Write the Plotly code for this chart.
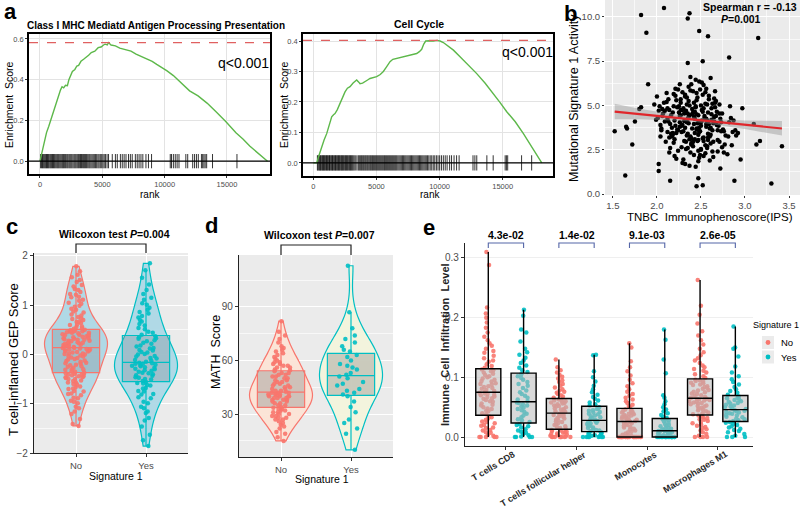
import plotly.graph_objects as go

# ---------------- DATA ----------------
# Panel a: GSEA running enrichment score (rank, ES) and hit ranks
es_mhc = [(0, 0.0), (150, 0.04), (300, 0.08), (525, 0.14), (700, 0.17), (900, 0.21), (1077, 0.24), (1250, 0.27),
          (1490, 0.32), (1650, 0.35), (1770, 0.365), (1900, 0.36), (2044, 0.372), (2200, 0.37), (2320, 0.40),
          (2450, 0.42), (2600, 0.44), (2800, 0.45), (2955, 0.467), (3100, 0.47), (3287, 0.49), (3500, 0.50),
          (3700, 0.508), (3900, 0.52), (4116, 0.533), (4400, 0.54), (4668, 0.557), (4900, 0.56), (5100, 0.57),
          (5220, 0.574), (5400, 0.57), (5497, 0.582), (5700, 0.57), (6050, 0.566), (6400, 0.555), (6878, 0.549),
          (7300, 0.54), (7707, 0.525), (8100, 0.515), (8536, 0.50), (9000, 0.49), (9365, 0.475), (9800, 0.46),
          (10193, 0.443), (10700, 0.42), (11298, 0.385), (12000, 0.345), (12680, 0.32), (13400, 0.285),
          (14061, 0.246), (14900, 0.195), (15718, 0.139), (16300, 0.108), (16823, 0.074), (17500, 0.04),
          (18067, 0.008), (18250, 0.0)]
hits_mhc = [50, 120, 200, 260, 330, 400, 470, 520, 600, 660, 720, 800, 870, 940, 1010, 1080, 1150, 1220, 1300,
            1380, 1450, 1520, 1600, 1680, 1760, 1830, 1900, 1980, 2060, 2150, 2230, 2320, 2400, 2480, 2560, 2650,
            2740, 2820, 2900, 2990, 3080, 3160, 3250, 3330, 3420, 3500, 3580, 3660, 3740, 3830, 3920, 4000, 4090,
            4180, 4270, 4360, 4460, 4550, 4650, 4740, 4840, 4950, 5050, 5150, 5250, 5380, 5500, 5800, 6050, 6200,
            6450, 6600, 6750, 6900, 7100, 7250, 7400, 7650, 7800, 7950, 8100, 8250, 8500, 8700, 8950, 10450,
            10550, 10700, 10850, 11000, 11150, 11700, 11850, 12250, 12400, 12550, 12700, 12950, 13050, 13150,
            13250, 13370, 13840, 15800]
es_cc = [(0, 0.0), (264, 0.0), (450, 0.025), (660, 0.053), (850, 0.075), (1057, 0.096), (1250, 0.125),
         (1453, 0.151), (1600, 0.158), (1717, 0.162), (1900, 0.175), (2113, 0.195), (2300, 0.215), (2510, 0.233),
         (2700, 0.245), (2906, 0.25), (3150, 0.262), (3434, 0.272), (3600, 0.265), (3698, 0.26), (3900, 0.262),
         (4094, 0.266), (4300, 0.272), (4490, 0.277), (4750, 0.28), (5018, 0.283), (5300, 0.29), (5547, 0.30),
         (5800, 0.315), (6075, 0.332), (6300, 0.34), (6604, 0.343), (6900, 0.345), (7132, 0.348), (7400, 0.352),
         (7660, 0.354), (7950, 0.356), (8188, 0.359), (8400, 0.365), (8585, 0.373), (8750, 0.39), (8902, 0.40),
         (9200, 0.401), (9510, 0.40), (9800, 0.402), (10040, 0.40), (10300, 0.395), (10568, 0.387),
         (11100, 0.37), (11624, 0.348), (12300, 0.32), (12946, 0.293), (13600, 0.262), (14267, 0.228),
         (14800, 0.198), (15324, 0.168), (16000, 0.135), (16645, 0.096), (17300, 0.052), (17966, 0.009),
         (18100, 0.0)]
hits_cc = [320, 380, 450, 510, 560, 620, 690, 740, 800, 860, 910, 980, 1040, 1100, 1150, 1220, 1280, 1330, 1400,
           1460, 1520, 1570, 1640, 1700, 1760, 1810, 1880, 1940, 2000, 2060, 2120, 2190, 2250, 2300, 2370, 2430,
           2500, 2560, 2620, 2690, 2750, 2820, 2880, 2950, 3010, 3080, 3150, 3230, 3320, 3450, 3560, 3640, 3720,
           3800, 3870, 3950, 4020, 4100, 4170, 4250, 4320, 4400, 4480, 4550, 4630, 4700, 4780, 4860, 4940, 5020,
           5100, 5180, 5260, 5340, 5420, 5500, 5580, 5650, 5730, 5810, 5890, 5970, 6050, 6130, 6210, 6290, 6370,
           6450, 6530, 6610, 6700, 6790, 6880, 6970, 7060, 7150, 7240, 7330, 7420, 7510, 7600, 7690, 7780, 7870,
           7960, 8050, 8140, 8230, 8320, 8410, 8500, 8590, 8680, 8770, 8860, 8950, 9050, 9150, 9260, 9380, 9500,
           9620, 9750, 9880, 10010, 10150, 10300, 10450, 10600, 10800, 10950, 11150, 11350, 11550, 12650, 12800,
           12950, 13750, 14250, 15200, 15300, 15400, 16500, 17300]
rank_ticks = [0, 5000, 10000, 15000]

# Panel b: IPS vs Signature 1 activity
ips = [2.31, 2.45, 2.12, 2.58, 2.67, 2.22, 2.39, 2.50, 2.04, 2.76, 2.29, 2.41, 2.63, 2.18, 2.55, 2.35, 2.47, 2.09, 2.71, 2.26,
       2.52, 2.33, 2.15, 2.44, 2.60, 2.27, 2.81, 2.38, 2.01, 2.49, 2.66, 2.20, 2.36, 2.57, 2.43, 2.11, 2.74, 2.30, 2.53, 2.40,
       2.24, 2.62, 2.46, 2.07, 2.34, 2.55, 2.19, 2.70, 2.42, 2.28, 2.86, 2.13, 2.51, 2.37, 2.64, 2.25, 2.48, 1.97, 2.59, 2.32,
       2.45, 2.16, 2.68, 2.39, 2.56, 2.05, 2.29, 2.77, 2.50, 2.21, 2.42, 2.61, 2.34, 2.14, 2.53, 2.89, 2.26, 2.47, 2.72, 2.36,
       2.60, 2.23, 2.40, 2.54, 2.10, 2.32, 2.66, 2.48, 2.18, 2.84, 2.37, 2.57, 2.03, 2.44, 2.28, 2.69, 2.51, 2.20, 2.35, 2.63,
       2.41, 2.58, 2.12, 2.30, 2.75, 2.46, 2.24, 2.65, 2.38, 2.53, 2.00, 2.33, 2.49, 2.80, 2.17, 2.43, 2.61, 2.27, 2.56, 2.92,
       2.36, 2.22, 2.52, 2.08, 2.64, 2.45, 2.31, 2.71, 2.19, 2.55, 2.40, 2.87, 2.26, 2.47, 2.14, 2.62, 2.34, 2.50, 2.06, 2.73,
       2.29, 2.58, 2.42, 2.16, 2.67, 2.37, 2.53, 1.99, 2.44, 2.78, 2.21, 2.60, 2.32, 2.48, 2.11, 2.69, 2.39, 2.25, 2.57, 2.83,
       2.46, 2.27, 2.63, 2.35, 2.09, 2.51, 2.42, 2.74, 2.18, 2.56, 2.30, 2.65, 2.44, 2.02, 2.38, 2.59, 2.23, 2.48, 2.90, 2.33,
       2.54, 2.20, 2.40, 2.68, 2.13, 2.47, 2.36, 2.61, 2.05, 2.76, 2.28, 2.52, 2.43, 2.15, 2.66, 2.31, 2.57, 2.97, 2.24, 2.45,
       2.34, 2.59, 2.19, 2.49, 2.71, 2.26, 2.41, 2.06, 2.55, 2.37, 2.64, 2.12, 2.50, 2.82, 2.29, 2.45, 2.62, 2.22, 2.39, 2.53,
       2.43, 2.17, 2.65, 2.32, 2.50, 2.04, 2.73, 2.38, 2.58, 2.27, 2.47, 2.69, 2.14, 2.41, 2.85, 2.56, 2.35, 2.21, 2.61, 2.48,
       1.52, 1.64, 1.65, 1.66, 1.72, 1.75, 1.82, 1.88, 1.90, 2.08, 2.35, 2.37, 2.48, 2.58, 3.15, 2.82, 2.35, 2.52, 3.30, 3.42,
       3.13, 3.17, 3.10, 2.88, 2.47, 2.45, 2.52, 2.15, 2.95, 2.72, 2.02, 2.02, 1.80, 1.82]
sig1 = [4.12, 3.65, 4.85, 3.20, 4.40, 5.30, 2.85, 4.05, 3.90, 3.55, 5.75, 4.60, 2.40, 3.35, 5.10, 4.25, 3.05, 4.70, 2.95, 3.80,
        5.60, 2.55, 3.95, 4.95, 3.70, 4.45, 3.25, 5.85, 4.30, 2.20, 4.90, 3.10, 6.05, 4.15, 3.45, 5.20, 4.55, 1.95, 3.00, 4.80,
        3.60, 4.20, 5.45, 4.55, 3.30, 2.75, 5.65, 3.85, 4.35, 2.65, 3.50, 4.10, 6.30, 5.00, 2.10, 4.95, 3.75, 5.05, 5.35, 1.70,
        4.50, 3.40, 4.65, 3.15, 5.95, 3.70, 4.75, 2.80, 2.50, 5.55, 3.95, 3.35, 4.05, 2.35, 4.85, 3.60, 6.20, 1.85, 4.25, 5.25,
        3.25, 4.90, 2.90, 4.40, 2.95, 5.50, 5.80, 3.50, 4.60, 4.30, 1.60, 2.60, 4.95, 6.45, 3.85, 3.05, 4.15, 2.15, 4.55, 5.10,
        2.70, 4.60, 4.25, 3.55, 3.65, 4.00, 2.45, 5.40, 6.60, 3.20, 5.50, 4.70, 5.90, 2.25, 3.75, 3.10, 2.85, 5.15, 3.95, 3.45,
        4.35, 2.00, 4.65, 5.15, 4.00, 5.70, 3.00, 4.55, 4.95, 2.30, 3.70, 4.15, 4.40, 3.35, 3.20, 4.85, 5.45, 2.55, 4.80, 3.55,
        3.90, 3.40, 2.20, 4.45, 5.25, 3.10, 6.15, 4.20, 4.90, 3.30, 3.85, 1.90, 5.60, 4.10, 5.70, 2.40, 2.80, 4.60, 5.05, 4.95,
        3.00, 5.35, 3.60, 2.60, 4.10, 4.75, 5.15, 2.65, 3.45, 3.80, 4.85, 4.35, 1.55, 4.70, 3.25, 5.55, 3.65, 6.35, 3.30, 2.95,
        4.30, 4.15, 4.50, 3.90, 5.35, 2.45, 4.00, 6.55, 3.60, 2.35, 3.50, 3.15, 4.65, 2.60, 5.15, 4.55, 2.70, 4.85, 5.90, 3.70,
        5.05, 3.95, 2.90, 3.55, 5.05, 4.05, 2.95, 4.40, 5.75, 4.45, 2.95, 3.50, 3.85, 4.05, 1.75, 5.30, 4.50, 3.45, 6.20, 2.15,
        4.25, 3.25, 4.10, 3.75, 5.00, 3.25, 4.05, 2.35, 3.05, 4.75, 4.45, 3.60, 4.75, 5.80, 2.75, 4.25, 3.40, 5.95, 3.75, 2.05,
        3.55, 1.05, 3.80, 3.70, 2.80, 4.10, 10.10, 9.10, 6.20, 10.50, 9.90, 10.20, 9.20, 8.90, 8.80, 7.70, 7.40, 7.50, 0.60, 2.70,
        2.80, 3.00, 3.95, 0.75, 0.90, 0.45, 0.50, 0.75, 1.95, 1.45, 1.30, 1.70, 4.80, 4.90]
fit_x = [1.52, 3.42]
fit_y = [4.65, 3.70]
ci_x = [1.52, 1.80, 2.10, 2.40, 2.70, 3.00, 3.42]
ci_lo = [4.22, 4.22, 4.17, 4.10, 3.90, 3.67, 3.30]
ci_hi = [5.10, 4.82, 4.57, 4.34, 4.22, 4.15, 4.12]

# Panel c: T cell-inflamed GEP score
gep_no = [-1.45, -1.41, -1.31, -1.21, -1.16, -1.09, -1.06, -0.99, -0.96, -0.94, -0.89, -0.88, -0.83, -0.80, -0.79, -0.75,
          -0.74, -0.70, -0.69, -0.66, -0.65, -0.61, -0.60, -0.57, -0.57, -0.54, -0.53, -0.50, -0.50, -0.48, -0.46, -0.46,
          -0.44, -0.44, -0.42, -0.41, -0.41, -0.39, -0.39, -0.38, -0.36, -0.35, -0.34, -0.31, -0.30, -0.30, -0.27, -0.25,
          -0.24, -0.22, -0.21, -0.19, -0.18, -0.17, -0.15, -0.13, -0.12, -0.10, -0.09, -0.07, -0.06, -0.04, -0.03, -0.02,
          0.00, 0.01, 0.02, 0.02, 0.04, 0.05, 0.06, 0.07, 0.08, 0.08, 0.10, 0.10, 0.11, 0.12, 0.13, 0.13, 0.15, 0.16,
          0.16, 0.18, 0.19, 0.20, 0.20, 0.22, 0.23, 0.24, 0.25, 0.25, 0.27, 0.28, 0.28, 0.30, 0.30, 0.31, 0.32, 0.33,
          0.33, 0.35, 0.36, 0.37, 0.37, 0.39, 0.40, 0.41, 0.41, 0.43, 0.44, 0.44, 0.45, 0.46, 0.47, 0.47, 0.48, 0.49,
          0.49, 0.50, 0.52, 0.53, 0.56, 0.57, 0.60, 0.61, 0.64, 0.66, 0.67, 0.70, 0.72, 0.73, 0.76, 0.79, 0.81, 0.85,
          0.87, 0.91, 0.93, 0.97, 0.99, 1.03, 1.05, 1.09, 1.11, 1.16, 1.17, 1.21, 1.23, 1.27, 1.31, 1.33, 1.38, 1.41,
          1.47, 1.51, 1.57, 1.62, 1.69, 1.79]
gep_yes = [-1.86, -1.74, -1.63, -1.46, -1.34, -1.29, -1.19, -1.16, -1.09, -1.06, -0.99, -0.96, -0.89, -0.87, -0.81,
           -0.80, -0.75, -0.74, -0.69, -0.68, -0.63, -0.62, -0.59, -0.58, -0.56, -0.54, -0.51, -0.50, -0.47, -0.46,
           -0.43, -0.42, -0.40, -0.38, -0.37, -0.35, -0.33, -0.32, -0.30, -0.29, -0.27, -0.26, -0.24, -0.23, -0.22,
           -0.21, -0.19, -0.19, -0.18, -0.17, -0.15, -0.12, -0.11, -0.08, -0.07, -0.04, -0.03, 0.00, 0.01, 0.04,
           0.05, 0.08, 0.09, 0.12, 0.13, 0.16, 0.18, 0.22, 0.24, 0.27, 0.29, 0.32, 0.33, 0.35, 0.37, 0.40, 0.44,
           0.46, 0.51, 0.54, 0.59, 0.62, 0.67, 0.70, 0.75, 0.78, 0.83, 0.86, 0.91, 0.95, 1.01, 1.04, 1.11, 1.15,
           1.23, 1.31, 1.42, 1.56, 1.71, 1.85]

# Panel d: MATH score
math_no = [15, 17, 19, 20, 22, 23, 24, 25, 26, 27, 27, 28, 28, 29, 29, 30, 30, 31, 31, 32, 32, 33, 33, 33.5,
           34, 35, 35, 36, 36, 37, 37, 38, 38, 38, 39, 39, 39, 40, 40, 40, 40, 41, 41, 41, 41, 42, 42, 42,
           42.5, 43, 43, 44, 44, 45, 45, 46, 46, 47, 47, 48, 48, 49, 49, 50, 50, 51, 51, 52, 52, 53, 53, 54,
           54.5, 55, 56, 56, 57, 57, 58, 58, 59, 59, 60, 61, 62, 63, 64, 65, 66, 67, 68, 70, 72, 74, 76, 82]
math_yes = [10, 19, 22, 25, 27, 31, 34, 37, 40, 41, 42, 43, 44, 46, 47, 48, 50, 51,
            52, 53, 55, 56, 57, 58, 60, 62, 63, 65, 66, 68, 70, 72, 74, 78, 87, 113]

# Panel e: immune cell infiltration
cell_types = ["T cells CD8", "T cells follicular helper", "Monocytes", "Macrophages M1"]
p_values = ["4.3e-02", "1.4e-02", "9.1e-03", "2.6e-05"]
infil_no = {
    "T cells CD8": [0, 0, 0, 0, 0, .002, .004, .007, .008, .011, .012, .015, .016, .019, .020, .023, .025, .026, .029, .031,
                    .033, .035, .038, .040, .043, .044, .047, .048, .050, .053, .054, .056, .059, .060, .062, .064, .065,
                    .067, .068, .070, .071, .072, .073, .074, .076, .077, .079, .081, .082, .084, .085, .088, .089, .090,
                    .093, .094, .096, .098, .100, .102, .104, .106, .108, .110, .112, .113, .116, .119, .122, .126, .128,
                    .132, .136, .141, .144, .148, .153, .157, .162, .168, .175, .183, .192, .200, .207, .217, .288, .310],
    "T cells follicular helper": [0, 0, 0, 0, 0, 0, 0, 0, .001, .002, .003, .004, .005, .006, .007, .008, .009, .010, .011,
                                  .012, .014, .015, .017, .018, .020, .021, .023, .025, .026, .028, .029, .031, .032, .034,
                                  .035, .036, .037, .038, .039, .039, .041, .042, .043, .045, .046, .047, .048, .050, .051,
                                  .052, .053, .055, .056, .057, .058, .059, .060, .061, .062, .063, .066, .068, .070, .072,
                                  .074, .076, .078, .080, .083, .086, .089, .092, .095, .098, .101, .104, .108, .112, .117,
                                  .130],
    "Monocytes": [0] * 22 + [.001, .002, .003, .004, .006, .008, .009, .011, .013, .014, .016, .017, .019, .020, .022,
                             .023, .024, .025, .027, .028, .029, .030, .031, .032, .033, .034, .035, .036, .037, .038,
                             .039, .040, .041, .042, .043, .044, .045, .046, .050, .052, .054, .057, .060, .063, .066,
                             .069, .072, .076, .080, .085, .090, .096, .103, .110, .117, .127, .150, .157],
    "Macrophages M1": [0, 0, 0, 0, .002, .005, .008, .011, .013, .015, .017, .019, .021, .023, .025, .027, .029, .030,
                       .032, .033, .035, .036, .038, .040, .041, .043, .045, .046, .048, .049, .051, .052, .053, .055,
                       .056, .057, .058, .059, .060, .061, .062, .063, .064, .064, .066, .067, .069, .070, .072, .073,
                       .075, .076, .078, .079, .081, .082, .084, .085, .087, .088, .090, .091, .093, .094, .095, .096,
                       .099, .102, .105, .108, .111, .114, .117, .120, .124, .128, .132, .137, .142, .148, .155, .162,
                       .170, .177, .190, .205, .220, .263],
}
infil_yes = {
    "T cells CD8": [0, 0, 0, 0, .001, .003, .005, .007, .009, .011, .013, .016, .018, .020, .022, .025, .028, .030, .033,
                    .036, .039, .042, .045, .047, .049, .051, .053, .055, .057, .058, .060, .063, .066, .069, .072, .075,
                    .078, .082, .086, .089, .092, .096, .099, .102, .105, .109, .112, .116, .120, .124, .128, .133, .138,
                    .142, .148, .160, .175, .180, .203, .213],
    "T cells follicular helper": [0, 0, 0, 0, 0, 0, 0, .001, .002, .003, .004, .005, .006, .007, .008, .010, .011, .012,
                                  .014, .015, .016, .018, .019, .020, .022, .023, .024, .025, .026, .027, .029, .030,
                                  .032, .033, .035, .036, .038, .039, .041, .042, .044, .045, .047, .048, .050, .053,
                                  .055, .058, .061, .064, .067, .071, .075, .080, .086, .093, .100, .110, .137, .138],
    "Monocytes": [0] * 17 + [.001, .002, .003, .004, .005, .006, .007, .008, .009, .009, .010, .010, .010, .011, .012,
                             .013, .014, .015, .016, .018, .019, .020, .022, .024, .026, .028, .029, .030, .032, .034,
                             .037, .040, .043, .046, .050, .055, .060, .066, .070, .107, .130, .163, .180],
    "Macrophages M1": [0, 0, 0, .002, .005, .008, .010, .012, .014, .016, .018, .020, .022, .024, .025, .027, .028, .030,
                       .031, .033, .034, .036, .037, .039, .040, .041, .042, .043, .044, .045, .047, .048, .050, .051,
                       .053, .054, .056, .057, .059, .060, .062, .063, .065, .066, .068, .071, .074, .077, .080, .084,
                       .088, .092, .097, .102, .108, .118, .135, .148, .150, .185],
}
legend_groups = ["No", "Yes"]

# ---------------- STYLE / LAYOUT HELPERS ----------------
FONT = "Liberation Sans, Arial, Helvetica, sans-serif"
W, H = 800, 507
RED, TEAL = "#F8766D", "#00BFC4"
GRAYBG = "#EBEBEB"
TICKC = "#4D4D4D"


def fx(p):
    return p / W


def fy(p):
    return 1 - p / H


def dx(a, b):
    return [fx(a), fx(b)]


def dy(top, bottom):
    return [fy(bottom), fy(top)]


fig = go.Figure()

# ---------------- Panel a ----------------
for es, hits, xa, ya, half in [(es_mhc, hits_mhc, "x", "y", 0.035), (es_cc, hits_cc, "x2", "y2", 0.025)]:
    hx, hy = [], []
    for r in hits:
        hx += [r, r, None]
        hy += [-half, half, None]
    fig.add_trace(go.Scatter(x=hx, y=hy, mode="lines", line=dict(color="black", width=0.8),
                             xaxis=xa, yaxis=ya, showlegend=False, hoverinfo="skip"))
    fig.add_trace(go.Scatter(x=[p[0] for p in es], y=[p[1] for p in es], mode="lines",
                             line=dict(color="#5DB84A", width=1.4), xaxis=xa, yaxis=ya, showlegend=False))

# ---------------- Panel b ----------------
fig.add_trace(go.Scatter(x=ips, y=sig1, mode="markers", marker=dict(color="black", size=4.5),
                         xaxis="x3", yaxis="y3", showlegend=False))
fig.add_trace(go.Scatter(x=ci_x + ci_x[::-1], y=ci_hi + ci_lo[::-1], fill="toself",
                         fillcolor="rgba(150,150,150,0.45)", line=dict(width=0), mode="lines",
                         xaxis="x3", yaxis="y3", showlegend=False, hoverinfo="skip"))
fig.add_trace(go.Scatter(x=fit_x, y=fit_y, mode="lines", line=dict(color="#E0262B", width=2.2),
                         xaxis="x3", yaxis="y3", showlegend=False))

# ---------------- Panel c & d (violins) ----------------
for vals, grp, col, fill, boxfill, xa, ya in [
    (gep_no, "No", RED, "rgba(173,216,230,0.95)", "rgba(130,140,150,0.35)", "x4", "y4"),
    (gep_yes, "Yes", TEAL, "rgba(173,216,230,0.95)", "rgba(130,140,150,0.35)", "x4", "y4"),
    (math_no, "No", RED, "rgba(252,228,214,0.95)", "rgba(140,140,140,0.40)", "x5", "y5"),
    (math_yes, "Yes", TEAL, "rgba(243,244,220,0.95)", "rgba(140,140,140,0.40)", "x5", "y5"),
]:
    fig.add_trace(go.Violin(x=[grp] * len(vals), y=vals, xaxis=xa, yaxis=ya, width=0.9, spanmode="hard",
                            scalemode="width", fillcolor=fill, line=dict(color=col, width=1.2),
                            points="all", jitter=0.45, pointpos=0,
                            marker=dict(color=col, size=4.5, opacity=0.9, line=dict(width=0)),
                            box=dict(visible=True, width=0.75, fillcolor=boxfill, line=dict(color=col, width=1.2)),
                            showlegend=False, hoveron="points"))

# ---------------- Panel e (boxes) ----------------
for grp, data, col in [("No", infil_no, RED), ("Yes", infil_yes, TEAL)]:
    xs, ys = [], []
    for ct in cell_types:
        xs += [ct] * len(data[ct])
        ys += data[ct]
    fig.add_trace(go.Box(x=xs, y=ys, offsetgroup=grp, boxpoints="all", jitter=0.95, pointpos=0,
                         fillcolor="rgba(0,0,0,0)", line=dict(color="rgba(0,0,0,0)", width=0),
                         marker=dict(color=col, size=4.5, opacity=0.9), whiskerwidth=0,
                         xaxis="x6", yaxis="y6", showlegend=False, hoverinfo="y"))
for grp, data in [("No", infil_no), ("Yes", infil_yes)]:
    xs, ys = [], []
    for ct in cell_types:
        xs += [ct] * len(data[ct])
        ys += data[ct]
    fig.add_trace(go.Box(x=xs, y=ys, offsetgroup=grp, boxpoints=False,
                         fillcolor="rgba(185,185,185,0.55)", line=dict(color="black", width=1.4),
                         whiskerwidth=0, xaxis="x6", yaxis="y6", showlegend=False))

# ---------------- Axes ----------------
tf = dict(family=FONT, size=7.5, color=TICKC)
a_common = dict(showgrid=True, gridcolor="#E3E3E3", gridwidth=0.8, showline=True, linecolor="black",
                linewidth=1.5, mirror=True, ticks="outside", ticklen=2, tickcolor="#333", tickfont=tf,
                zeroline=False, automargin=False)
layout = dict(
    xaxis=dict(domain=dx(29, 270), anchor="y", range=[-880, 18450], tickvals=rank_ticks,
               ticktext=[str(t) for t in rank_ticks], **a_common),
    yaxis=dict(domain=dy(34, 174), anchor="x", range=[-0.063, 0.624], tickvals=[0, 0.2, 0.4, 0.6],
               ticktext=["0.0", "0.2", "0.4", "0.6"], **a_common),
    xaxis2=dict(domain=dx(303, 553), anchor="y2", range=[-820, 18990], tickvals=rank_ticks,
                ticktext=[str(t) for t in rank_ticks], **a_common),
    yaxis2=dict(domain=dy(34, 176), anchor="x2", range=[-0.043, 0.423], tickvals=[0, 0.1, 0.2, 0.3, 0.4],
                ticktext=["0.0", "0.1", "0.2", "0.3", "0.4"], **a_common),
)
minor_w = dict(showgrid=True, gridcolor="rgba(255,255,255,0.65)", gridwidth=0.6)
layout["xaxis3"] = dict(domain=dx(605, 800), anchor="y3", range=[1.41, 3.625], tick0=1.5, dtick=0.5,
                        tickformat=".1f", showgrid=True, gridcolor="white", gridwidth=1.1, zeroline=False,
                        ticks="outside", ticklen=2, tickcolor="#333", automargin=False,
                        tickfont=dict(family=FONT, size=9.5, color=TICKC),
                        minor=dict(dtick=0.25, tick0=1.5, **minor_w))
layout["yaxis3"] = dict(domain=dy(0, 195), anchor="x3", range=[-0.05, 10.95], tick0=0, dtick=2.5, tickformat=".1f",
                        showgrid=True, gridcolor="white", gridwidth=1.1, zeroline=False, automargin=False,
                        ticks="outside", ticklen=2, tickcolor="#333", tickfont=dict(family=FONT, size=9.5, color=TICKC),
                        minor=dict(dtick=1.25, tick0=0, **minor_w))
cd_x = dict(type="category", categoryorder="array", categoryarray=["No", "Yes"], range=[-0.6, 1.6],
            showgrid=True, gridcolor="white", gridwidth=1.1, showline=True, linecolor="#222", linewidth=1.2,
            ticks="outside", ticklen=3, tickcolor="#333", automargin=False,
            tickfont=dict(family=FONT, size=9.5, color=TICKC))
cd_y = dict(showgrid=True, gridcolor="white", gridwidth=1.1, showline=True, linecolor="#222", linewidth=1.2,
            zeroline=False, ticks="outside", ticklen=3, tickcolor="#333", automargin=False,
            tickfont=dict(family=FONT, size=10, color=TICKC))
layout["xaxis4"] = dict(domain=dx(34, 188), anchor="y4", **cd_x)
layout["yaxis4"] = dict(domain=dy(253, 453), anchor="x4", range=[-2.0, 2.06], tick0=0, dtick=1,
                        minor=dict(dtick=0.5, tick0=0, **minor_w), **cd_y)
layout["xaxis5"] = dict(domain=dx(239, 393), anchor="y5", **cd_x)
layout["yaxis5"] = dict(domain=dy(255, 457), anchor="x5", range=[6, 119], tickvals=[30, 60, 90],
                        minor=dict(dtick=15, tick0=0, **minor_w), **cd_y)
layout["xaxis6"] = dict(domain=dx(465, 753), anchor="y6", type="category", categoryorder="array",
                        categoryarray=cell_types, range=[-0.58, 3.5], tickvals=cell_types,
                        showticklabels=False, showgrid=False,
                        showline=True, linecolor="#222", linewidth=1.2, ticks="outside", ticklen=3,
                        tickcolor="#333", automargin=False)
layout["yaxis6"] = dict(domain=dy(243, 446), anchor="x6", range=[-0.015, 0.325], tickvals=[0, 0.1, 0.2, 0.3],
                        ticktext=["0.0", "0.1", "0.2", "0.3"], showgrid=True, gridcolor="#EFEFEF", gridwidth=1,
                        showline=True, linecolor="#222", linewidth=1.2, zeroline=False, ticks="outside",
                        ticklen=3, tickcolor="#333", automargin=False, tickfont=dict(family=FONT, size=10, color=TICKC))

# ---------------- Shapes ----------------
shapes = []
for k in ["3", "4", "5"]:
    shapes.append(dict(type="rect", xref="x%s domain" % k, yref="y%s domain" % k, x0=0, x1=1, y0=0, y1=1,
                       fillcolor=GRAYBG, line=dict(width=0), layer="below"))
for es, k in [(es_mhc, ""), (es_cc, "2")]:
    mx = max(p[1] for p in es)
    shapes.append(dict(type="line", xref="x%s domain" % k, yref="y%s" % k, x0=0, x1=1, y0=mx, y1=mx,
                       line=dict(color="#E06060", width=1.2, dash="dash")))
    shapes.append(dict(type="line", xref="x%s domain" % k, yref="y%s" % k, x0=0, x1=1, y0=0, y1=0,
                       line=dict(color="black", width=1.3)))
# Wilcoxon brackets (c, d)
for xa, top, bot in [("x4", 244, 253), ("x5", 245, 255)]:
    shapes.append(dict(type="path", xref=xa, yref="paper",
                       path="M 0,%f L 0,%f L 1,%f L 1,%f" % (fy(bot), fy(top), fy(top), fy(bot)),
                       line=dict(color="#222", width=1.2)))
# p-value brackets (e)
for i in range(len(cell_types)):
    shapes.append(dict(type="path", xref="x6", yref="paper",
                       path="M %f,%f L %f,%f L %f,%f L %f,%f" % (i - 0.25, fy(248), i - 0.25, fy(243),
                                                                 i + 0.25, fy(243), i + 0.25, fy(248)),
                       line=dict(color="#5566A8", width=1.1)))
# legend keys (panel e)
for j, col in enumerate([RED, TEAL]):
    top = 336 + j * 14.5
    shapes.append(dict(type="rect", xref="paper", yref="paper", x0=fx(762), x1=fx(774), y0=fy(top + 13),
                       y1=fy(top), fillcolor="#EBEBEB", line=dict(width=0)))
    cy = top + 6.5
    shapes.append(dict(type="circle", xref="paper", yref="paper", x0=fx(765.6), x1=fx(770.4), y0=fy(cy + 2.4),
                       y1=fy(cy - 2.4), fillcolor=col, line=dict(width=0)))

# ---------------- Annotations ----------------
ann = []


def text(t, x, y, size, color="black", angle=0, xanchor="center", yanchor="middle", xref="paper", xshift=0):
    ann.append(dict(text=t, x=x if xref != "paper" else fx(x), y=fy(y), xref=xref, yref="paper",
                    showarrow=False, font=dict(family=FONT, size=size, color=color), textangle=angle,
                    xanchor=xanchor, yanchor=yanchor, xshift=xshift))


# panel letters
text("<b>a</b>", 10, 11, 22)
text("<b>b</b>", 570, 13, 22)
text("<b>c</b>", 12, 226, 22)
text("<b>d</b>", 211, 225, 22)
text("<b>e</b>", 429, 227, 22)
# panel a
text("<b>Class I MHC Mediatd Antigen Processing Presentation</b>", 156, 25, 10)
text("<b>Cell Cycle</b>", 419, 24, 10.5)
text("q<0.001", 243, 63, 14)
text("q<0.001", 527, 52, 14)
text("rank", 150, 195, 10)
text("rank", 430, 195, 10)
text("Enrichment  Score", 9, 105, 10.5, angle=-90)
text("Enrichment  Score", 284, 105, 10.5, angle=-90)
# panel b
text("<b>Spearman r = -0.13</b>", 750, 7, 10.5)
text("<b><i>P</i>=0.001</b>", 741, 19, 10.5)
text("Mutational Signature 1 Activity", 574, 98, 12.5, angle=-90)
text("TNBC  Immunophenoscore(IPS)", 710, 217, 11.5)
# panel c
text("<b>Wilcoxon test <i>P</i>=0.004</b>", 115, 234, 10.5)
text("T cell-inflamed GEP Score", 13, 360, 13, angle=-90)
text("Signature 1", 116, 476, 10.5)
# panel d
text("<b>Wilcoxon test <i>P</i>=0.007</b>", 319, 235, 10.5)
text("MATH  Score", 216, 352, 12.5, angle=-90)
text("Signature 1", 322, 479, 10.5)
# panel e
for i, pv in enumerate(p_values):
    text("<b>%s</b>" % pv, cell_types[i], 235, 10.5, xref="x6")
for ct in cell_types:
    text("<b>%s</b>" % ct, ct, 446.5, 9, color="#2a2a2a", angle=-31, xanchor="right", yanchor="top",
         xref="x6", xshift=14)
text("<b>Immune  Cell  Infiltration  Level</b>", 445, 345, 11, color="#222", angle=-90)
text("Signature 1", 751, 325, 9, xanchor="left")
for j, g in enumerate(legend_groups):
    text(g, 779, 342.5 + j * 14.5, 9.5, xanchor="left")

fig.update_layout(
    template="none",
    width=W, height=H, margin=dict(l=0, r=0, t=0, b=0, autoexpand=False), paper_bgcolor="white",
    plot_bgcolor="white", font=dict(family=FONT, color="black"), shapes=shapes, annotations=ann,
    boxmode="group", boxgap=0, boxgroupgap=0.29, violinmode="overlay", showlegend=False,
    **layout,
)

fig.write_html("out.html", config={"displayModeBar": False},
               post_script="document.body.style.margin='0';document.body.style.padding='0';"
                           "document.body.style.overflow='hidden';")
